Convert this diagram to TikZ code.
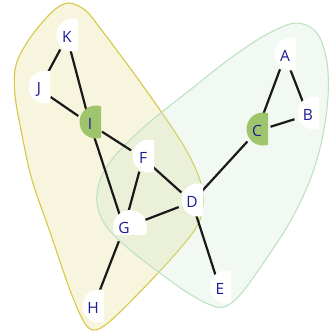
\documentclass[tikz,border=0pt]{standalone}
\usepackage{fontspec}
\setmainfont{Open Sans}
\usepackage{tikz}
\usetikzlibrary{calc,backgrounds}
\definecolor{labelblue}{RGB}{28,28,150}
\definecolor{nodegreen}{RGB}{158,197,108}
\definecolor{hullyellow}{RGB}{232,226,160}
\definecolor{lineyellow}{RGB}{215,200,70}
\definecolor{hullgreen}{RGB}{200,232,205}
\definecolor{linegreen}{RGB}{190,226,192}
\tikzset{
vertex/.style={circle,minimum size=28pt,inner sep=0pt,font=\fontsize{15.5}{17}\selectfont,text=labelblue},
link/.style={line width=2.2pt,black!90},
yhull/.style={draw=lineyellow,line width=1.1pt,fill=hullyellow,fill opacity=0.35},
ghull/.style={draw=linegreen,line width=1.1pt,fill=hullgreen,fill opacity=0.25}
}
\begin{document}
\begin{tikzpicture}[x=1pt,y=-1pt]
\useasboundingbox (0,0) rectangle (330,333);
\node[vertex](K) at (67,37){K};
\node[vertex](J) at (39,89){J};
\node[vertex](I) at (90,124){I};
\node[vertex](F) at (143,158){F};
\node[vertex](G) at (124,228){G};
\node[vertex](D) at (192,202){D};
\node[vertex](E) at (220,289){E};
\node[vertex](H) at (93,308){H};
\node[vertex](C) at (257,131){C};
\node[vertex](A) at (285,56){A};
\node[vertex](B) at (308,115){B};
\begin{scope}[on background layer]
% groups
\draw[yhull] plot[smooth cycle,tension=0.55] coordinates {(68,3) (85,10) (100,28) (130,68) (160,110) (185,148) (200,180) (203,205) (196,228) (170,260) (135,297) (108,323) (94,330) (84,322) (70,290) (50,232) (32,180) (22,135) (15,95) (16,65) (30,38) (52,12)};
\draw[ghull] plot[smooth cycle,tension=0.55] coordinates {(290,24) (306,25) (319,36) (327,62) (328,97) (322,140) (310,180) (290,222) (262,265) (240,295) (224,307) (208,304) (185,291) (160,273) (130,250) (106,226) (97,203) (100,180) (110,162) (125,145) (152,120) (190,90) (228,60) (262,37)};
% edges
\foreach \x/\y in {K/J,K/I,J/I,I/F,I/G,F/G,F/D,G/D,G/H,D/C,D/E,C/A,C/B,A/B} \draw[link](\x)--(\y);
% node backgrounds
\foreach \n/\c in {K/white,J/white,I/nodegreen,F/white,D/white,E/white,H/white,C/nodegreen,A/white,B/white}{
\begin{scope}
\clip ($(\n)+(-25,-25)$) rectangle ($(\n)+(11,25)$);
\fill[\c] ($(\n)+(6,-2)$) circle (16.5pt);
\end{scope}
}
\begin{scope}
\clip ($(G)+(-25,-25)$) rectangle ($(G)+(25,6)$);
\fill[white] ($(G)+(6,-1)$) circle (17pt);
\end{scope}
\end{scope}
\end{tikzpicture}
\end{document}
